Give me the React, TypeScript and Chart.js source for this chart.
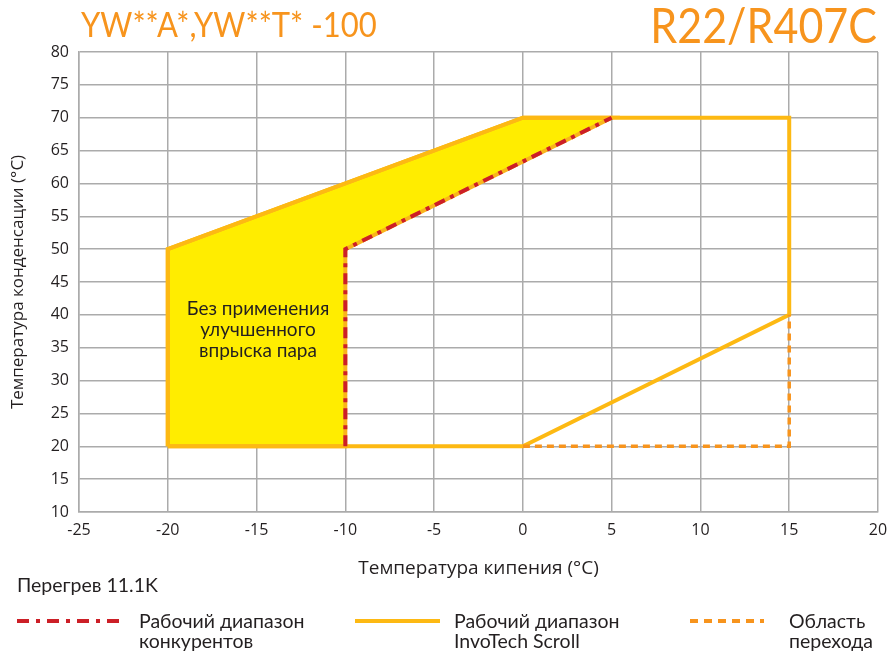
import React, { useEffect, useRef } from "react";
import { Chart, registerables } from "chart.js";

Chart.register(...registerables);

const xTicks = [-25, -20, -15, -10, -5, 0, 5, 10, 15, 20];
const yTicks = [10, 15, 20, 25, 30, 35, 40, 45, 50, 55, 60, 65, 70, 75, 80];

// Area without enhanced vapour injection (yellow filled)
const noInjectionX = [-20, -20, 0, 5, -10, -10, -20];
const noInjectionY = [20, 50, 70, 70, 50, 20, 20];

// InvoTech Scroll envelope
const invoTechX = [-20, -20, 0, 15, 15, 0, -20];
const invoTechY = [20, 50, 70, 70, 40, 20, 20];

// Competitor envelope (dash-dot)
const competitorX = [-10, -10, 5];
const competitorY = [20, 50, 70];

// Transition area (dashed)
const transitionX = [0, 15, 15];
const transitionY = [20, 20, 40];

const toPts = (xs: number[], ys: number[]) => xs.map((x, i) => ({ x, y: ys[i] }));

const TXT = "#231F20";
const ORANGE = "#F7941D";

export default function App() {
  const ref = useRef<HTMLCanvasElement | null>(null);

  useEffect(() => {
    if (!ref.current) return;
    const chart = new Chart(ref.current, {
      type: "line",
      data: {
        datasets: [
          {
            label: "Рабочий диапазон конкурентов",
            data: toPts(competitorX, competitorY),
            borderColor: "#CC1F27",
            borderWidth: 4,
            borderDash: [11, 6, 4, 6],
            pointRadius: 0,
            fill: false,
            order: 0,
          },
          {
            label: "Область перехода",
            data: toPts(transitionX, transitionY),
            borderColor: ORANGE,
            borderWidth: 3.5,
            borderDash: [7, 5],
            pointRadius: 0,
            fill: false,
            order: 1,
          },
          {
            label: "Рабочий диапазон InvoTech Scroll",
            data: toPts(invoTechX, invoTechY),
            borderColor: "#FDB913",
            borderWidth: 4,
            pointRadius: 0,
            fill: false,
            order: 2,
          },
          {
            label: "Без применения улучшенного впрыска пара",
            data: toPts(noInjectionX, noInjectionY),
            borderColor: "#F9B51C",
            backgroundColor: "#FFED00",
            borderWidth: 4,
            pointRadius: 0,
            fill: "shape" as any,
            order: 3,
          },
        ],
      },
      options: {
        animation: false,
        responsive: false,
        devicePixelRatio: 1,
        layout: { padding: { top: 52, left: 8, right: 10, bottom: 75 } },
        plugins: { legend: { display: false }, tooltip: { enabled: false } },
        scales: {
          x: {
            type: "linear",
            min: -25,
            max: 20,
            afterBuildTicks: (s: any) => {
              s.ticks = xTicks.map((v) => ({ value: v }));
            },
            afterFit: (s: any) => {
              s.height = 70;
              s.paddingLeft = 0;
              s.paddingRight = 0;
            },
            grid: { color: "#ABABAB", lineWidth: 1.5, drawTicks: false },
            border: { color: "#ABABAB", width: 1.5 },
            ticks: { padding: 9, color: TXT, font: { family: "Open Sans", size: 16 } },
            title: {
              display: true,
              text: "Температура кипения (°C)",
              color: TXT,
              font: { family: "Open Sans", size: 19 },
              padding: { top: 0, bottom: 2 },
            },
          },
          y: {
            type: "linear",
            min: 10,
            max: 80,
            afterBuildTicks: (s: any) => {
              s.ticks = yTicks.map((v) => ({ value: v }));
            },
            afterFit: (s: any) => {
              s.width = 71;
            },
            grid: { color: "#ABABAB", lineWidth: 1.5, drawTicks: false },
            border: { color: "#ABABAB", width: 1.5 },
            ticks: { padding: 10, color: TXT, font: { family: "Open Sans", size: 16 } },
            title: {
              display: true,
              text: "Температура конденсации (°C)",
              color: TXT,
              font: { family: "Open Sans", size: 17 },
              padding: { top: 0, bottom: 0 },
            },
          },
        },
      },
    });
    return () => chart.destroy();
  }, []);

  const legendText: React.CSSProperties = {
    position: "absolute",
    fontFamily: "Lato",
    fontSize: 19.5,
    color: TXT,
    lineHeight: "20px",
    whiteSpace: "nowrap",
  };

  return (
    <div style={{ position: "absolute", left: 0, top: 0, width: 888, height: 657, background: "#fff", overflow: "hidden" }}>
      <canvas ref={ref} width={888} height={657} style={{ position: "absolute", left: 0, top: 0 }} />
      <div style={{ position: "absolute", left: 81, top: 3, fontFamily: "Lato", fontWeight: 400, fontSize: 31, color: ORANGE, whiteSpace: "nowrap", transform: "scaleY(1.1)", transformOrigin: "top left" }}>
        YW**A*,YW**T* -100
      </div>
      <div style={{ position: "absolute", right: 11, top: -4, fontFamily: "Lato", fontWeight: 400, fontSize: 43, color: ORANGE, whiteSpace: "nowrap", transform: "scaleY(1.12)", transformOrigin: "top right" }}>
        R22/R407C
      </div>
      <div style={{ position: "absolute", left: 178, top: 297, width: 160, textAlign: "center", fontFamily: "Lato", fontSize: 19, lineHeight: "21px", color: TXT }}>
        Без применения<br />улучшенного<br />впрыска пара
      </div>
      <div style={{ ...legendText, left: 17, top: 575 }}>Перегрев 11.1K</div>
      <svg width={888} height={30} style={{ position: "absolute", left: 0, top: 606 }}>
        <line x1={17} y1={15} x2={124} y2={15} stroke="#CC1F27" strokeWidth={4} strokeDasharray="12 7 4 7" />
        <line x1={355} y1={15} x2={440} y2={15} stroke="#FDB913" strokeWidth={4} />
        <line x1={690} y1={15} x2={764} y2={15} stroke={ORANGE} strokeWidth={4} strokeDasharray="8 6" />
      </svg>
      <div style={{ ...legendText, left: 139, top: 611 }}>Рабочий диапазон<br />конкурентов</div>
      <div style={{ ...legendText, left: 454, top: 611 }}>Рабочий диапазон<br />InvoTech Scroll</div>
      <div style={{ ...legendText, left: 789, top: 611 }}>Область<br />перехода</div>
    </div>
  );
}
